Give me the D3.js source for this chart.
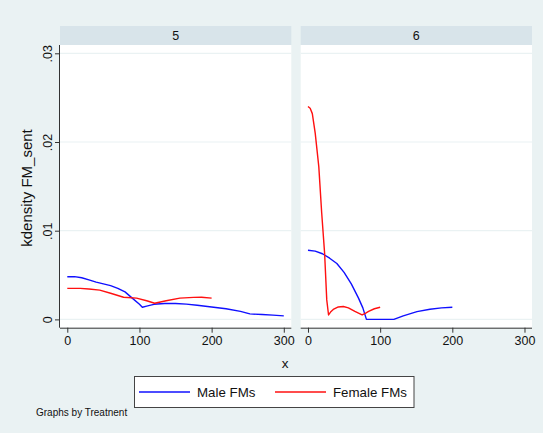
<!DOCTYPE html>
<html>
<head>
<meta charset="utf-8">
<script src="https://cdn.jsdelivr.net/npm/d3@7"></script>
<style>
  html, body { margin: 0; padding: 0; background: #EAF2F3; }
  svg { display: block; font-family: "Liberation Sans", Arial, Helvetica, sans-serif; }
</style>
</head>
<body>
<svg id="chart" width="543" height="433"></svg>
<script>
// Kernel density of FM_sent by sex, one panel per treatment
const panels = ["5", "6"];
const xTicks = [0, 100, 200, 300];
const yTicks = [0, 0.01, 0.02, 0.03];
const yTickLabels = ["0", ".01", ".02", ".03"];
const seriesNames = ["Male FMs", "Female FMs"];
const seriesColors = ["#1010FF", "#FF1010"];

// Treatment 5
const male5X = [0, 10, 20, 30, 40, 50, 60, 70, 80, 90, 100, 104, 110, 120, 135, 150, 165, 180, 200, 220, 240, 253, 270, 285, 300];
const male5Y = [0.0048, 0.00482, 0.0047, 0.00445, 0.0042, 0.0040, 0.0038, 0.0035, 0.0031, 0.0024, 0.0017, 0.00137, 0.0015, 0.0017, 0.0018, 0.0018, 0.00172, 0.0016, 0.0014, 0.0012, 0.0009, 0.00062, 0.00055, 0.00048, 0.0004];
const female5X = [0, 18, 30, 45, 60, 78, 96, 110, 121, 137, 156, 175, 186, 200];
const female5Y = [0.0035, 0.0035, 0.00342, 0.0033, 0.00295, 0.0025, 0.0024, 0.0021, 0.00182, 0.0021, 0.0024, 0.00248, 0.0025, 0.0024];

// Treatment 6
const male6X = [0, 10, 20, 30, 40, 50, 60, 70, 76, 81, 119, 132, 151, 169, 185, 200];
const male6Y = [0.0078, 0.0077, 0.0074, 0.0069, 0.0063, 0.0053, 0.0040, 0.0024, 0.0013, 0, 0, 0.0004, 0.00088, 0.00115, 0.0013, 0.00137];
const female6X = [0, 3, 6, 10, 15, 19, 23, 26, 28.5, 32, 35, 42, 49, 56, 65, 75, 80, 84, 92, 100];
const female6Y = [0.024, 0.0238, 0.0232, 0.021, 0.0172, 0.012, 0.0075, 0.0022, 0.0005, 0.0009, 0.00112, 0.0014, 0.00145, 0.0013, 0.0009, 0.0005, 0.0007, 0.0009, 0.0012, 0.00137];

const panelData = [
  [d3.zip(male5X, male5Y), d3.zip(female5X, female5Y)],
  [d3.zip(male6X, male6Y), d3.zip(female6X, female6Y)]
];

const svg = d3.select("#chart");
const bg = "#EAF2F3", stripFill = "#D8E4EA", axisColor = "#333";

svg.append("rect").attr("width", 543).attr("height", 433).attr("fill", bg);

const plotTop = 45, plotBottom = 327.7;
const panelLeft = [60, 300.7], panelWidth = 231.3;
const y = d3.scaleLinear().domain([0, 0.03]).range([319.4, 53.3]);

panels.forEach((name, i) => {
  const left = panelLeft[i];
  const x = d3.scaleLinear().domain([-10.1, 310.4]).range([left, left + panelWidth]);
  const g = svg.append("g");

  // strip header
  g.append("rect").attr("x", left).attr("y", 26).attr("width", panelWidth).attr("height", plotTop - 26).attr("fill", stripFill);
  g.append("text").attr("x", left + panelWidth / 2).attr("y", 39.5).attr("text-anchor", "middle")
    .attr("font-size", 12.5).attr("fill", "#111").text(name);

  // plot region
  g.append("rect").attr("x", left).attr("y", plotTop).attr("width", panelWidth).attr("height", plotBottom - plotTop).attr("fill", "#fff");

  // gridlines
  g.selectAll("line.grid").data(yTicks).join("line").attr("class", "grid")
    .attr("x1", left).attr("x2", left + panelWidth)
    .attr("y1", d => y(d)).attr("y2", d => y(d))
    .attr("stroke", bg).attr("stroke-width", 1.2);

  // x axis
  const xAxis = d3.axisBottom(x).tickValues(xTicks).tickSize(5).tickSizeOuter(0).tickPadding(3).tickFormat(d3.format("d"));
  const xa = g.append("g").attr("transform", `translate(0,${plotBottom})`).call(xAxis);
  xa.select(".domain").attr("stroke", axisColor).attr("d", `M${left},0.5H${left + panelWidth}`);
  xa.selectAll(".tick line").attr("stroke", axisColor);
  xa.selectAll("text").attr("font-size", 12.5).attr("fill", "#111").attr("font-family", "Liberation Sans, Arial, sans-serif");

  // y axis on the first panel only
  if (i === 0) {
    const yAxis = d3.axisLeft(y).tickValues(yTicks).tickSize(5).tickSizeOuter(0)
      .tickFormat((d, k) => yTickLabels[k]);
    const ya = g.append("g").attr("transform", `translate(${left},0)`).call(yAxis);
    ya.select(".domain").attr("stroke", axisColor).attr("d", `M-0.5,${plotTop}V${plotBottom}`);
    ya.selectAll(".tick line").attr("stroke", axisColor);
    ya.selectAll("text").attr("font-size", 12.5).attr("fill", "#111")
      .attr("font-family", "Liberation Sans, Arial, sans-serif")
      .attr("x", null).attr("dy", null)
      .attr("text-anchor", "middle")
      .attr("transform", "translate(-8,0) rotate(-90)");
  }

  // density curves
  const line = d3.line().x(d => x(d[0])).y(d => y(d[1]));
  panelData[i].forEach((pts, s) => {
    g.append("path").datum(pts).attr("d", line)
      .attr("fill", "none").attr("stroke", seriesColors[s]).attr("stroke-width", 1.4)
      .attr("stroke-linejoin", "round");
  });
});

// axis titles
svg.append("text").attr("transform", "translate(31.5,188) rotate(-90)").attr("text-anchor", "middle")
  .attr("font-size", 15).attr("fill", "#111").text("kdensity FM_sent");
svg.append("text").attr("x", 285).attr("y", 368).attr("text-anchor", "middle")
  .attr("font-size", 13.5).attr("fill", "#111").text("x");

// legend
const legend = svg.append("g");
legend.append("rect").attr("x", 134.5).attr("y", 376.5).attr("width", 279.5).attr("height", 31)
  .attr("fill", "#fff").attr("stroke", "#444").attr("stroke-width", 1);
const legX = [139, 275];
seriesNames.forEach((n, s) => {
  legend.append("line").attr("x1", legX[s]).attr("x2", legX[s] + 51).attr("y1", 392).attr("y2", 392)
    .attr("stroke", seriesColors[s]).attr("stroke-width", 1.4);
  legend.append("text").attr("x", legX[s] + 58).attr("y", 397).attr("font-size", 13.3).attr("fill", "#111").text(n);
});

// note
svg.append("text").attr("x", 36).attr("y", 415.5).attr("font-size", 10).attr("fill", "#111").text("Graphs by Treatnent");
</script>
</body>
</html>
